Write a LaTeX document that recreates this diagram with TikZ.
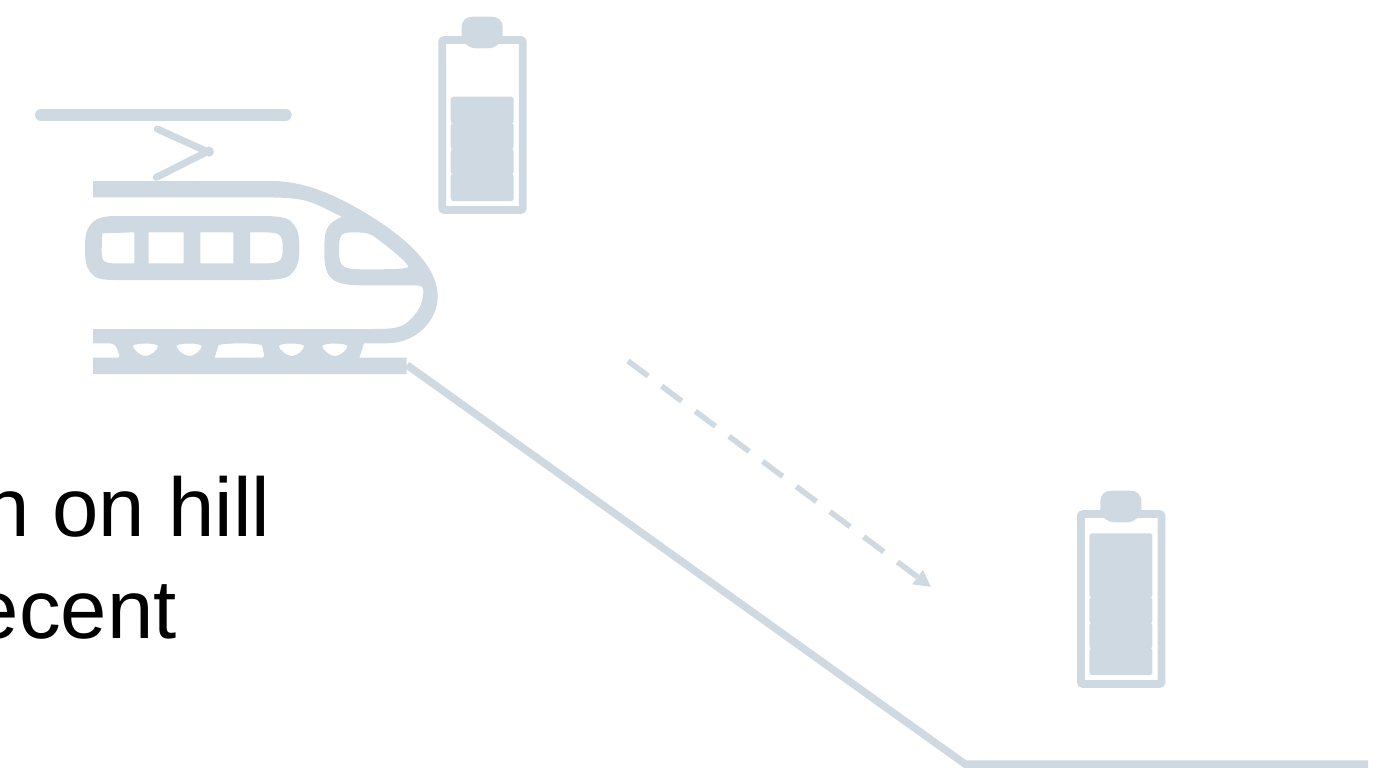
\documentclass[tikz,border=0pt]{standalone}
\usepackage{fontspec}
\setmainfont{Liberation Sans}
\usetikzlibrary{arrows.meta}
\definecolor{pale}{HTML}{CED9E2}
\tikzset{
  px/.style={line width=#1*0.75pt},
  ground/.style={draw=pale,px=7.5,line cap=butt,line join=miter},
  wire/.style={draw=pale,px=12,line cap=round},
  arm/.style={draw=pale,px=7,line cap=round,line join=round},
  casing/.style={draw=pale,px=7.7,rounded corners=1.6pt},
  batcap/.style={fill=pale},
  cell/.style={fill=pale,rounded corners=2pt},
  bigtext/.style={font=\fontsize{62.5pt}{72pt}\selectfont,text=black,inner sep=0pt,anchor=base east},
  travel/.style={draw=pale,px=5.5,dash pattern=on 18.8pt off 12.7pt,-{Triangle[length=12.5pt,width=12.5pt,fill=pale]}},
}
% battery: shift x, shift y, y of the top of the upper cell
\newcommand{\batterydraw}[3]{%
  \begin{scope}[shift={(#1,#2)}]
    \draw[casing] (442.2,40) rectangle (522.8,210);
    \fill[batcap] (461.7,38) -- (461.7,28) .. controls (461.7,20) and (466,16.7) .. (473,16.7)
      -- (491,16.7) .. controls (498,16.7) and (502.7,20) .. (502.7,28) -- (502.7,38)
      .. controls (500,43) and (496,48.3) .. (488,48.3) -- (476,48.3) .. controls (468,48.3) and (464,43) .. (461.7,38) -- cycle;
    \fill[cell] (450.7,#3) rectangle (513.7,123.6);
    \fill[cell] (450.7,123) rectangle (513.7,149.3);
    \fill[cell] (450.7,148.7) rectangle (513.7,174.4);
    \fill[cell] (450.7,173.8) rectangle (513.7,201);
  \end{scope}}
\begin{document}
\begin{tikzpicture}[x=0.75pt,y=-0.75pt]
\useasboundingbox (0,0) rectangle (1394,767);
\clip (0,0) rectangle (1394,767);

% ground
\coordinate (hilltop) at (407,365);
\coordinate (hillfoot) at (965,764);
\coordinate (groundend) at (1368,764);
\draw[ground] (hilltop) -- (hillfoot) -- (groundend);

% direction of travel
\coordinate (travelstart) at (628,361);
\coordinate (traveltip) at (931,587);
\draw[travel] (travelstart) -- (traveltip);

% text
\node[bigtext] (lineone) at (270.5,536) {n on hill};
\node[bigtext] (linetwo) at (177,638) {ecent};

% batteries
\batterydraw{0}{0}{96.7}
\batterydraw{638.7}{474}{59.3}

% train
\begin{scope}[shift={(20,90)},x=0.25pt,y=-0.25pt]
  \coordinate (wirea) at (63,75);
  \coordinate (wireb) at (797,75);
  \draw[wire] (wirea) -- (wireb);
  \coordinate (armtop) at (412,117);
  \coordinate (armbot) at (409,262);
  \coordinate (armtip) at (562,185);
  \draw[arm] (armtop) -- (armtip) -- (armbot);
  \fill[pale] (567,185) circle[radius=15];
  % body
  \fill[pale,even odd rule]
    (219,273) -- (760,273) .. controls (860,275) and (950,318) .. (1030,365)
    .. controls (1130,425) and (1253,515) .. (1253,620)
    .. controls (1253,690) and (1190,760) .. (1100,760)
    -- (1032,760) -- (1018,803) -- (1160,803) -- (1160,852) -- (219,852) -- (219,803)
    -- (295,803) .. controls (302,800) and (298,795) .. (296,790)
    .. controls (290,770) and (288,760) .. (265,760) -- (219,760) -- (219,717) -- (1060,717)
    .. controls (1130,717) and (1150,712) .. (1175,685)
    .. controls (1200,660) and (1210,630) .. (1210,605)
    .. controls (1210,590) and (1205,586) .. (1185,586)
    -- (1030,586) .. controls (940,586) and (913,570) .. (913,490)
    .. controls (913,420) and (915,405) .. (965,380)
    -- (900,348) .. controls (850,325) and (820,322) .. (700,322) -- (219,322) -- cycle
    % nose window
    (1000,427) .. controls (1040,427) and (1050,430) .. (1070,445)
    .. controls (1110,475) and (1165,520) .. (1165,530)
    .. controls (1165,537) and (1120,538) .. (1040,538)
    .. controls (970,538) and (957,535) .. (957,485)
    .. controls (957,435) and (960,427) .. (1000,427) -- cycle
    % under-body openings
    (338,768) .. controls (345,758) and (408,758) .. (415,768) .. controls (412,782) and (392,798) .. (377,798) .. controls (362,798) and (342,782) .. (338,768) -- cycle
    (469,768) .. controls (476,758) and (539,758) .. (546,768) .. controls (543,782) and (523,798) .. (508,798) .. controls (493,798) and (473,782) .. (469,768) -- cycle
    (776,768) .. controls (783,758) and (846,758) .. (853,768) .. controls (850,782) and (830,798) .. (815,798) .. controls (800,798) and (780,782) .. (776,768) -- cycle
    (906,768) .. controls (913,758) and (976,758) .. (983,768) .. controls (980,782) and (960,798) .. (945,798) .. controls (930,798) and (910,782) .. (906,768) -- cycle
    (595,766) .. controls (610,758) and (715,758) .. (726,766) -- (733,795) .. controls (733,802) and (730,803) .. (720,803) -- (584,803) -- cycle;
  % side windows
  \fill[pale,even odd rule]
    (290,378) -- (720,378) .. controls (790,378) and (810,385) .. (820,402)
    .. controls (835,420) and (838,440) .. (838,474)
    .. controls (838,510) and (835,525) .. (820,545)
    .. controls (808,562) and (790,570) .. (720,570) -- (290,570)
    .. controls (240,570) and (225,565) .. (212,548)
    .. controls (198,532) and (195,510) .. (195,474)
    .. controls (195,440) and (198,420) .. (212,403)
    .. controls (225,388) and (240,378) .. (290,378) -- cycle
    (247,430) -- (343,427) -- (343,520) -- (290,520) .. controls (250,520) and (245,516) .. (245,480) -- cycle
    (386,427) rectangle (491,520)
    (541,427) rectangle (640,520)
    (690,427) -- (730,427) .. controls (780,427) and (788,432) .. (788,474) .. controls (788,516) and (780,520) .. (730,520) -- (690,520) -- cycle;
\end{scope}
\end{tikzpicture}
\end{document}
